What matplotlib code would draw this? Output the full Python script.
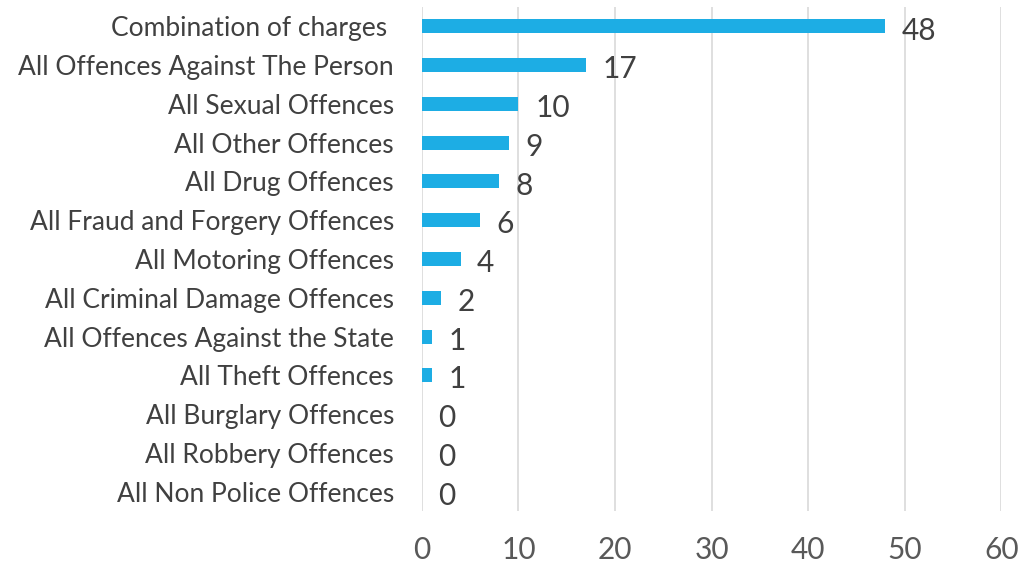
import matplotlib
matplotlib.use("Agg")
from matplotlib import pyplot as plt

categories = [
    "Combination of charges ",
    "All Offences Against The Person",
    "All Sexual Offences",
    "All Other Offences",
    "All Drug Offences",
    "All Fraud and Forgery Offences",
    "All Motoring Offences",
    "All Criminal Damage Offences",
    "All Offences Against the State",
    "All Theft Offences",
    "All Burglary Offences",
    "All Robbery Offences",
    "All Non Police Offences",
]
values = [48, 17, 10, 9, 8, 6, 4, 2, 1, 1, 0, 0, 0]
xticks = [0, 10, 20, 30, 40, 50, 60]

BAR_COLOUR = "#1DADE4"
GRID_COLOUR = "#D9D9D9"

plt.rcParams["font.family"] = ["Lato", "DejaVu Sans"]

fig = plt.figure(figsize=(10.29, 5.64), dpi=100)
ax = fig.add_axes([0.410, 0.094, 0.563, 0.8936])

ypos = list(range(len(categories)))
ax.barh(ypos, values, height=0.36, color=BAR_COLOUR, zorder=3)

# value labels to the right of each bar
for y, v in zip(ypos, values):
    ax.annotate(str(v), (v, y), xytext=(12, -3), textcoords="offset points",
                va="center", ha="left", fontsize=21.5, color="#404040")

ax.set_xlim(0, 60)
ax.set_ylim(len(categories) - 0.5, -0.5)
ax.set_xticks(xticks)
ax.set_yticks(ypos)
ax.set_yticklabels(categories)

ax.grid(axis="x", color=GRID_COLOUR, linewidth=1.2, zorder=0)
for s in ax.spines.values():
    s.set_visible(False)
ax.tick_params(axis="y", length=0, pad=20, labelsize=19, labelcolor="#404040")
ax.tick_params(axis="x", length=0, pad=18, labelsize=21.5, labelcolor="#595959")

fig.savefig("out.png", dpi=100)
